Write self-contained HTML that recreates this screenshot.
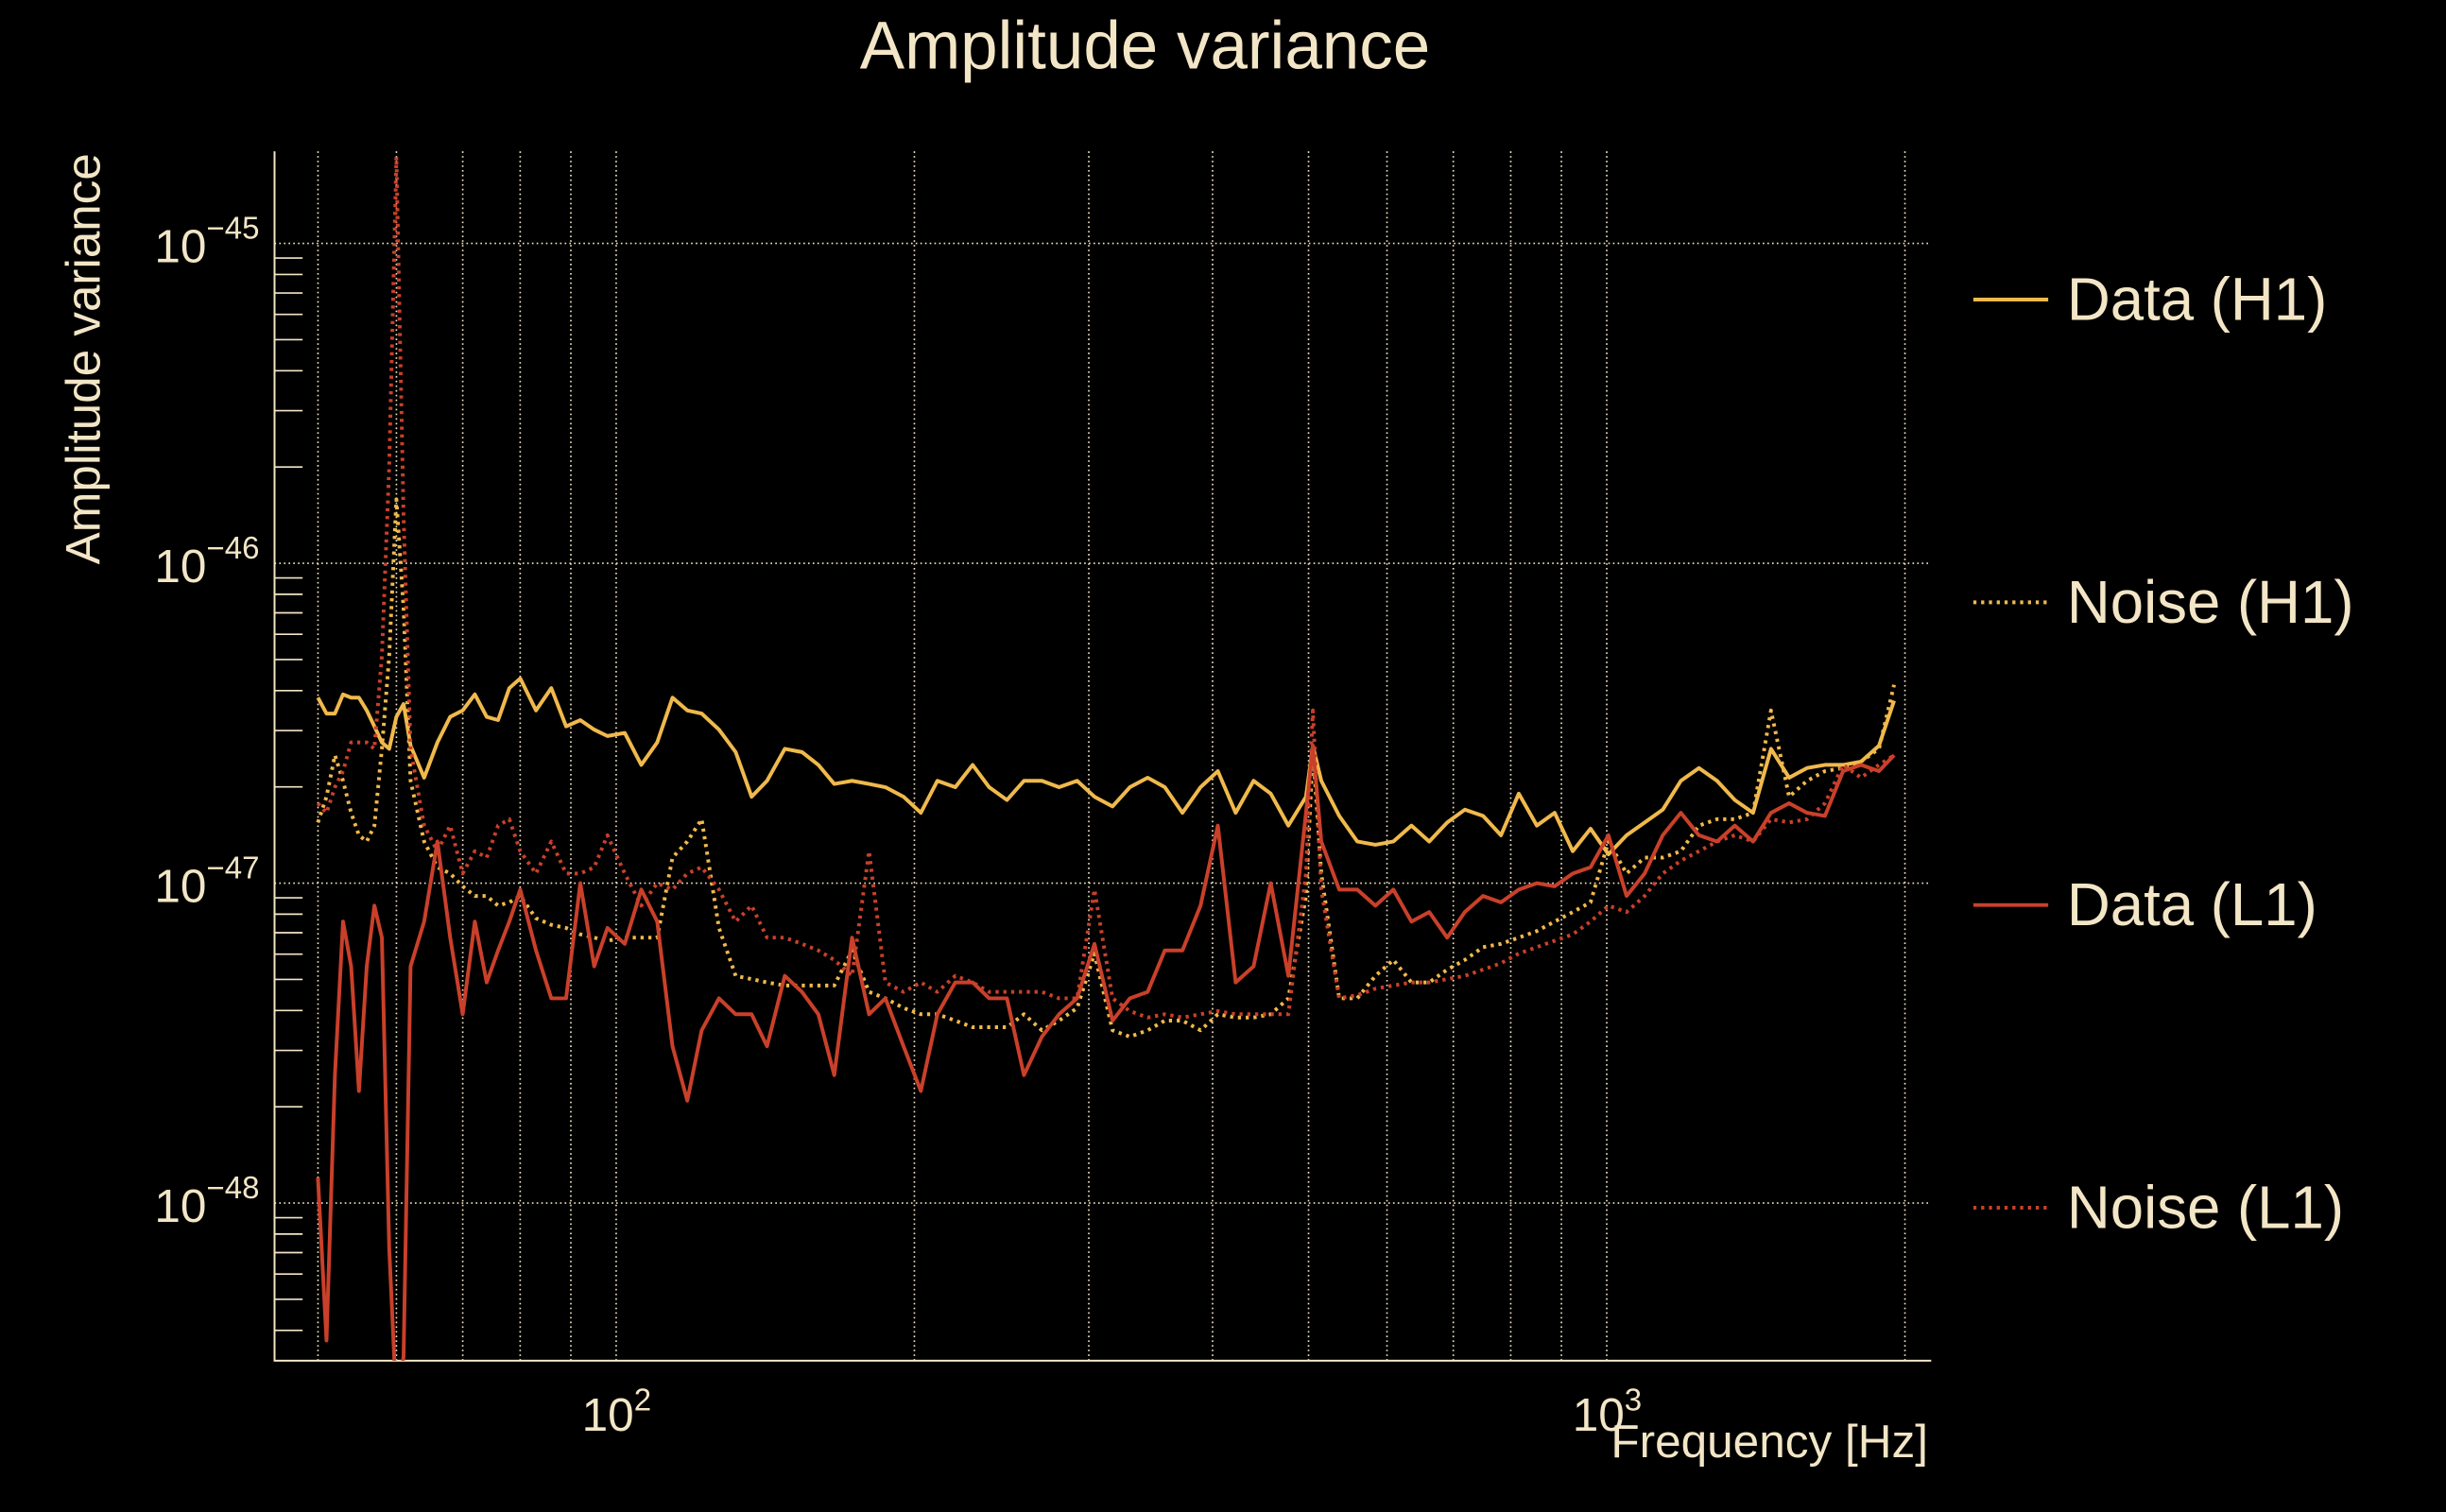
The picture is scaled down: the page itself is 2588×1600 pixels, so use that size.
<!DOCTYPE html>
<html><head><meta charset="utf-8"><style>
html,body{margin:0;padding:0;background:#000;}
svg{display:block;}
text{font-family:"Liberation Sans",sans-serif;fill:#f3e6c6;}
</style></head><body>
<svg id="chart" width="2588" height="1600" viewBox="0 0 1568 969" preserveAspectRatio="none" xmlns="http://www.w3.org/2000/svg">
<rect x="0" y="0" width="1568" height="969" fill="#000"/>
<defs><clipPath id="plotclip"><rect x="176" y="97" width="1062" height="775"/></clipPath></defs>
<text x="734" y="44" font-size="43" text-anchor="middle">Amplitude variance</text>
<text x="0" y="0" font-size="31" text-anchor="middle" transform="translate(64,230) rotate(-90)">Amplitude variance</text>
<text x="1236" y="934" font-size="30" text-anchor="end">Frequency [Hz]</text>
<g id="grid"></g>
<g id="axes"></g>
<g id="series" clip-path="url(#plotclip)"></g>
<g id="legend"></g>
</svg>
<script>
const freqs = [50,51,52,53,54,55,56,57,58,59,60,61,62,64,66,68,70,72,74,76,78,80,83,86,89,92,95,98,102,106,110,114,118,122,127,132,137,142,148,154,160,166,173,180,187,195,203,211,220,229,238,248,258,269,280,292,304,317,330,344,358,373,389,405,422,440,458,477,497,505,515,537,560,584,609,635,662,690,719,750,782,815,850,886,924,963,1004,1047,1092,1139,1188,1239,1292,1347,1405,1465,1528,1593,1661,1732,1806,1883,1950];
// log10 of amplitude variance
const dataH1 = [-46.42,-46.47,-46.47,-46.41,-46.42,-46.42,-46.46,-46.51,-46.56,-46.58,
-46.48,-46.44,-46.57,-46.67,-46.56,-46.48,-46.46,-46.41,-46.48,-46.49,
-46.39,-46.36,-46.46,-46.39,-46.51,-46.49,-46.52,-46.54,-46.53,-46.63,
-46.56,-46.42,-46.46,-46.47,-46.52,-46.59,-46.73,-46.68,-46.58,-46.59,
-46.63,-46.69,-46.68,-46.69,-46.70,-46.73,-46.78,-46.68,-46.70,-46.63,
-46.70,-46.74,-46.68,-46.68,-46.70,-46.68,-46.73,-46.76,-46.70,-46.67,
-46.70,-46.78,-46.70,-46.65,-46.78,-46.68,-46.72,-46.82,-46.73,-46.57,
-46.68,-46.79,-46.87,-46.88,-46.87,-46.82,-46.87,-46.81,-46.77,-46.79,
-46.85,-46.72,-46.82,-46.78,-46.90,-46.83,-46.91,-46.85,-46.81,-46.77,
-46.68,-46.64,-46.68,-46.74,-46.78,-46.58,-46.67,-46.64,-46.63,-46.63,
-46.62,-46.57,-46.43];
const noiseH1 = [-46.81,-46.73,-46.60,-46.68,-46.78,-46.85,-46.87,-46.82,-46.58,-46.29,
-45.80,-46.14,-46.68,-46.87,-46.95,-46.97,-47.01,-47.04,-47.04,-47.07,
-47.06,-47.04,-47.11,-47.13,-47.14,-47.16,-47.17,-47.18,-47.17,-47.17,
-47.17,-46.92,-46.87,-46.80,-47.14,-47.29,-47.30,-47.31,-47.32,-47.32,
-47.32,-47.32,-47.21,-47.34,-47.36,-47.39,-47.41,-47.41,-47.43,-47.45,
-47.45,-47.45,-47.41,-47.46,-47.43,-47.39,-47.22,-47.46,-47.48,-47.46,
-47.43,-47.43,-47.46,-47.41,-47.42,-47.42,-47.41,-47.36,-47.04,-46.58,
-46.97,-47.36,-47.36,-47.29,-47.24,-47.31,-47.31,-47.27,-47.24,-47.20,
-47.19,-47.17,-47.15,-47.12,-47.09,-47.06,-46.87,-46.97,-46.92,-46.92,
-46.90,-46.82,-46.80,-46.80,-46.78,-46.46,-46.73,-46.68,-46.65,-46.64,
-46.62,-46.58,-46.38];
const dataL1 = [-47.92,-48.43,-47.60,-47.12,-47.26,-47.65,-47.26,-47.07,-47.17,-48.14,
-48.63,-48.48,-47.26,-47.12,-46.87,-47.17,-47.41,-47.12,-47.31,-47.21,
-47.12,-47.02,-47.21,-47.36,-47.36,-47.00,-47.26,-47.14,-47.19,-47.02,
-47.12,-47.51,-47.68,-47.46,-47.36,-47.41,-47.41,-47.51,-47.29,-47.34,
-47.41,-47.60,-47.17,-47.41,-47.36,-47.51,-47.65,-47.41,-47.31,-47.31,
-47.36,-47.36,-47.60,-47.48,-47.41,-47.36,-47.19,-47.43,-47.36,-47.34,
-47.21,-47.21,-47.07,-46.82,-47.31,-47.26,-47.00,-47.29,-46.78,-46.57,
-46.87,-47.02,-47.02,-47.07,-47.02,-47.12,-47.09,-47.17,-47.09,-47.04,
-47.06,-47.02,-47.00,-47.01,-46.97,-46.95,-46.85,-47.04,-46.97,-46.85,
-46.78,-46.85,-46.87,-46.82,-46.87,-46.78,-46.75,-46.78,-46.79,-46.65,
-46.63,-46.65,-46.60];
const noiseL1 = [-46.75,-46.78,-46.70,-46.65,-46.56,-46.56,-46.56,-46.58,-46.29,-45.70,
-44.73,-45.85,-46.58,-46.82,-46.90,-46.82,-46.97,-46.90,-46.92,-46.82,
-46.80,-46.90,-46.97,-46.87,-46.97,-46.97,-46.95,-46.85,-46.97,-47.07,
-47.00,-47.02,-46.97,-46.95,-47.02,-47.12,-47.07,-47.17,-47.17,-47.19,
-47.21,-47.24,-47.29,-46.90,-47.31,-47.34,-47.31,-47.34,-47.29,-47.31,
-47.34,-47.34,-47.34,-47.34,-47.36,-47.36,-47.02,-47.36,-47.40,-47.42,
-47.41,-47.42,-47.41,-47.40,-47.41,-47.41,-47.41,-47.41,-46.97,-46.46,
-47.02,-47.36,-47.35,-47.33,-47.32,-47.31,-47.31,-47.30,-47.29,-47.27,
-47.25,-47.22,-47.20,-47.18,-47.16,-47.12,-47.07,-47.09,-47.04,-46.97,
-46.93,-46.90,-46.87,-46.85,-46.87,-46.80,-46.81,-46.80,-46.75,-46.63,
-46.67,-46.63,-46.60];
const xGridFreqs = [50,60,70,80,90,100,200,300,400,500,600,700,800,900,1000,2000];
const yDecades = [-45,-46,-47,-48];
const xLabelExps = [2,3];
const legendLabels = ["Data (H1)","Noise (H1)","Data (L1)","Noise (L1)"];

const NS = "http://www.w3.org/2000/svg";
const PL=176, PR=1238, PT=97, PB=872;
function xs(f){ return 395 + 635*(Math.log10(f)-2); }
function ys(l){ return 566 - 205*(l+47); }
function mk(tag, attrs, parent){ const e=document.createElementNS(NS,tag); for(const k in attrs) e.setAttribute(k,attrs[k]); parent.appendChild(e); return e; }
const grid=document.getElementById('grid'), axes=document.getElementById('axes'), series=document.getElementById('series'), legend=document.getElementById('legend');
const cream="#f3e6c6";

xGridFreqs.forEach(f=>{
  const l=mk('line',{x1:xs(f),x2:xs(f),y1:PT,y2:PB,stroke:cream,'stroke-width':1,'stroke-dasharray':'1 2'},grid);
  
  
});
yDecades.forEach(d=>{
  const l=mk('line',{x1:PL,x2:PR,y1:ys(d),y2:ys(d),stroke:cream,'stroke-width':1,'stroke-dasharray':'1 2'},grid);
  
  
  const t=mk('text',{x:99,y:ys(d)+12,'font-size':30},axes);
  
  
  t.textContent='10';
  const s=mk('tspan',{dy:-15,'font-size':20},t); s.textContent='\u2212'+Math.abs(d);
});
for(let d=-49; d<=-45; d++){
  for(let m=2;m<=9;m++){
    const y=ys(d+Math.log10(m));
    if(y<PT||y>PB) continue;
    const l=mk('line',{x1:PL,x2:PL+18,y1:y,y2:y,stroke:cream,'stroke-width':1},axes);
    
    
  }
}
xLabelExps.forEach(e=>{
  const t=mk('text',{x:xs(Math.pow(10,e))-22,y:917,'font-size':30},axes);
  
  
  t.textContent='10';
  const s=mk('tspan',{dy:-13,'font-size':20},t); s.textContent=String(e);
});
const sp=mk('path',{d:`M${PL},${PT}V${PB}H${PR}`,fill:'none',stroke:cream,'stroke-width':1.2},axes);



const defs=[
  {vals:dataH1,color:"#f0b94c",dash:null,name:"series-data-h1"},
  {vals:noiseH1,color:"#f0b94c",dash:"2 3",name:"series-noise-h1"},
  {vals:dataL1,color:"#c9402a",dash:null,name:"series-data-l1"},
  {vals:noiseL1,color:"#c9402a",dash:"2 3",name:"series-noise-l1"}
];
defs.forEach((s,i)=>{
  const pts=s.vals.map((v,j)=>xs(freqs[j]).toFixed(1)+','+ys(v).toFixed(1)).join(' ');
  const a={points:pts,fill:'none',stroke:s.color,'stroke-width':2.4,'stroke-linejoin':'round'};
  if(s.dash) a['stroke-dasharray']=s.dash;
  const p=mk('polyline',a,series);
  
  
  const ly=192+194*i;
  const ll=mk('line',{x1:1265,x2:1313,y1:ly,y2:ly,stroke:s.color,'stroke-width':2.4},legend);
  if(s.dash) ll.setAttribute('stroke-dasharray',s.dash);
  
  
  const t=mk('text',{x:1325,y:ly+13,'font-size':38.5},legend);
  
  
  t.textContent=legendLabels[i];
});
</script>
</body></html>
